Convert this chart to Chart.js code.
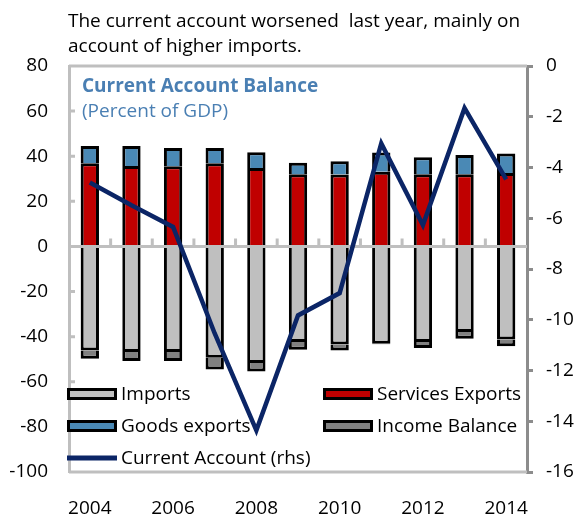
<!DOCTYPE html>
<html>
<head>
<meta charset="utf-8">
<script src="https://cdn.jsdelivr.net/npm/chart.js@4/dist/chart.umd.min.js"></script>
<style>
  html, body { margin: 0; padding: 0; background: #fff; }
  #wrap { width: 577px; height: 514px; }
</style>
</head>
<body>
<div id="wrap"><canvas id="caChart" width="577" height="514"></canvas></div>
<script>
const years = ['2004', '2005', '2006', '2007', '2008', '2009', '2010', '2011', '2012', '2013', '2014'];
const yearLabels = ['2004', '2006', '2008', '2010', '2012', '2014'];
const servicesExports = [36.9, 35.7, 35.6, 36.9, 34.8, 32.0, 31.9, 33.1, 32.0, 32.0, 32.6];
const goodsExports = [7.6, 8.8, 8.0, 6.7, 7.0, 5.1, 5.9, 8.6, 7.5, 8.5, 8.6];
const imports = [-46.1, -46.8, -46.8, -49.3, -51.7, -42.4, -43.5, -43.1, -42.4, -37.9, -41.3];
const incomeBalance = [-3.7, -4.0, -4.0, -5.3, -3.7, -3.4, -2.6, -0.3, -2.6, -3.0, -2.9];
const currentAccount = [-4.59, -5.49, -6.34, -10.54, -14.36, -9.83, -8.95, -3.05, -6.27, -1.66, -4.47];

const FONT = "'Open Sans', 'Noto Sans', sans-serif";
const SIZE = 19;
const GRAY = '#bfbfbf';
const DARK_GRAY = '#8c8c8c';

// frame, zero axis, in-plot legend and headings
const decorations = {
    id: 'decorations',
    beforeDatasetsDraw(chart) {
        const { ctx, chartArea: a, scales } = chart;
        ctx.save();
        ctx.strokeStyle = GRAY;
        ctx.lineWidth = 3;
        ctx.beginPath();
        ctx.moveTo(a.left, a.top);
        ctx.lineTo(a.right, a.top);
        ctx.moveTo(a.left, a.bottom);
        ctx.lineTo(a.right, a.bottom);
        // left axis ticks point inward
        scales.y.ticks.forEach(t => {
            const py = scales.y.getPixelForValue(t.value);
            ctx.moveTo(a.left, py);
            ctx.lineTo(a.left + 6, py);
        });
        ctx.stroke();

        // legend
        const items = [
            { ds: 2, x: 67, y: 394 },
            { ds: 0, x: 323, y: 394 },
            { ds: 1, x: 67, y: 426 },
            { ds: 3, x: 323, y: 426 },
            { ds: 4, x: 67, y: 458 }
        ];
        ctx.font = SIZE + 'px ' + FONT;
        ctx.textBaseline = 'middle';
        ctx.textAlign = 'left';
        items.forEach(it => {
            const d = chart.data.datasets[it.ds];
            if (d.type === 'line') {
                ctx.strokeStyle = d.borderColor;
                ctx.lineWidth = 5;
                ctx.beginPath();
                ctx.moveTo(it.x, it.y);
                ctx.lineTo(it.x + 50, it.y);
                ctx.stroke();
            } else {
                ctx.fillStyle = d.backgroundColor;
                ctx.fillRect(it.x, it.y - 6, 50, 12);
                ctx.strokeStyle = '#000';
                ctx.lineWidth = 3;
                ctx.strokeRect(it.x + 1.5, it.y - 4.5, 47, 9);
            }
            ctx.fillStyle = '#000';
            ctx.fillText(d.label, it.x + 54, it.y + 1);
        });
        ctx.restore();
    },
    afterDatasetDraw(chart, args) {
        // zero axis goes over the bars but under the line
        if (args.index !== 0) return;
        const { ctx, chartArea: a, scales } = chart;
        const y0 = scales.y.getPixelForValue(0);
        ctx.save();
        ctx.strokeStyle = GRAY;
        ctx.lineWidth = 3;
        ctx.beginPath();
        ctx.moveTo(a.left, y0);
        ctx.lineTo(a.right, y0);
        for (let i = 1; i < years.length; i++) {
            const px = scales.x.getPixelForValue(i - 0.5);
            ctx.moveTo(px, y0);
            ctx.lineTo(px, y0 - 8);
        }
        ctx.stroke();
        ctx.restore();
    },
    afterDraw(chart) {
        const { ctx } = chart;
        ctx.save();
        ctx.textAlign = 'left';
        ctx.textBaseline = 'alphabetic';
        ctx.fillStyle = '#000';
        ctx.font = SIZE + 'px ' + FONT;
        ctx.fillText('The current account worsened  last year, mainly on', 68, 27);
        ctx.fillText('account of higher imports.', 68, 52);
        ctx.fillStyle = '#4a7fb3';
        ctx.font = 'bold ' + SIZE + 'px ' + FONT;
        ctx.fillText('Current Account Balance', 82, 92);
        ctx.font = SIZE + 'px ' + FONT;
        ctx.fillText('(Percent of GDP)', 82, 117);
        ctx.restore();
    }
};

const barStyle = {
    type: 'bar',
    yAxisID: 'y',
    borderColor: '#000',
    borderWidth: 3,
    barPercentage: 0.44,
    categoryPercentage: 1,
    order: 1
};

new Chart(document.getElementById('caChart'), {
    data: {
        labels: years,
        datasets: [
            { ...barStyle, label: 'Services Exports', data: servicesExports, backgroundColor: '#c00000' },
            { ...barStyle, label: 'Goods exports', data: goodsExports, backgroundColor: '#4a89b5' },
            { ...barStyle, label: 'Imports', data: imports, backgroundColor: '#bfbfbf' },
            { ...barStyle, label: 'Income Balance', data: incomeBalance, backgroundColor: '#808080' },
            {
                type: 'line',
                label: 'Current Account (rhs)',
                data: currentAccount,
                yAxisID: 'y1',
                borderColor: '#0b2566',
                borderWidth: 4.5,
                pointRadius: 0,
                tension: 0,
                order: 0
            }
        ]
    },
    options: {
        responsive: false,
        animation: false,
        layout: { padding: { top: 66, left: 0, right: 0, bottom: 0 } },
        plugins: {
            legend: { display: false },
            tooltip: { enabled: false }
        },
        scales: {
            x: {
                stacked: true,
                offset: true,
                grid: { display: false },
                border: { display: false },
                ticks: {
                    autoSkip: false,
                    maxRotation: 0,
                    padding: 17,
                    color: '#000',
                    font: { family: FONT, size: SIZE },
                    callback: (v, i) => yearLabels.includes(years[i]) ? years[i] : ''
                },
                afterFit: s => { s.height = 42; }
            },
            y: {
                stacked: true,
                position: 'left',
                min: -100,
                max: 80,
                grid: { drawOnChartArea: false, drawTicks: false },
                border: { color: GRAY, width: 3 },
                ticks: {
                    stepSize: 20,
                    padding: 21,
                    color: '#000',
                    font: { family: FONT, size: SIZE }
                },
                afterFit: s => { s.width = 69; }
            },
            y1: {
                position: 'right',
                min: -16,
                max: 0,
                grid: { drawOnChartArea: false, drawTicks: true, tickLength: 6, color: DARK_GRAY, lineWidth: 3 },
                border: { color: DARK_GRAY, width: 3 },
                ticks: {
                    stepSize: 2,
                    padding: 13,
                    color: '#000',
                    font: { family: FONT, size: SIZE }
                },
                afterFit: s => { s.width = 50; }
            }
        }
    },
    plugins: [decorations]
});
</script>
</body>
</html>
